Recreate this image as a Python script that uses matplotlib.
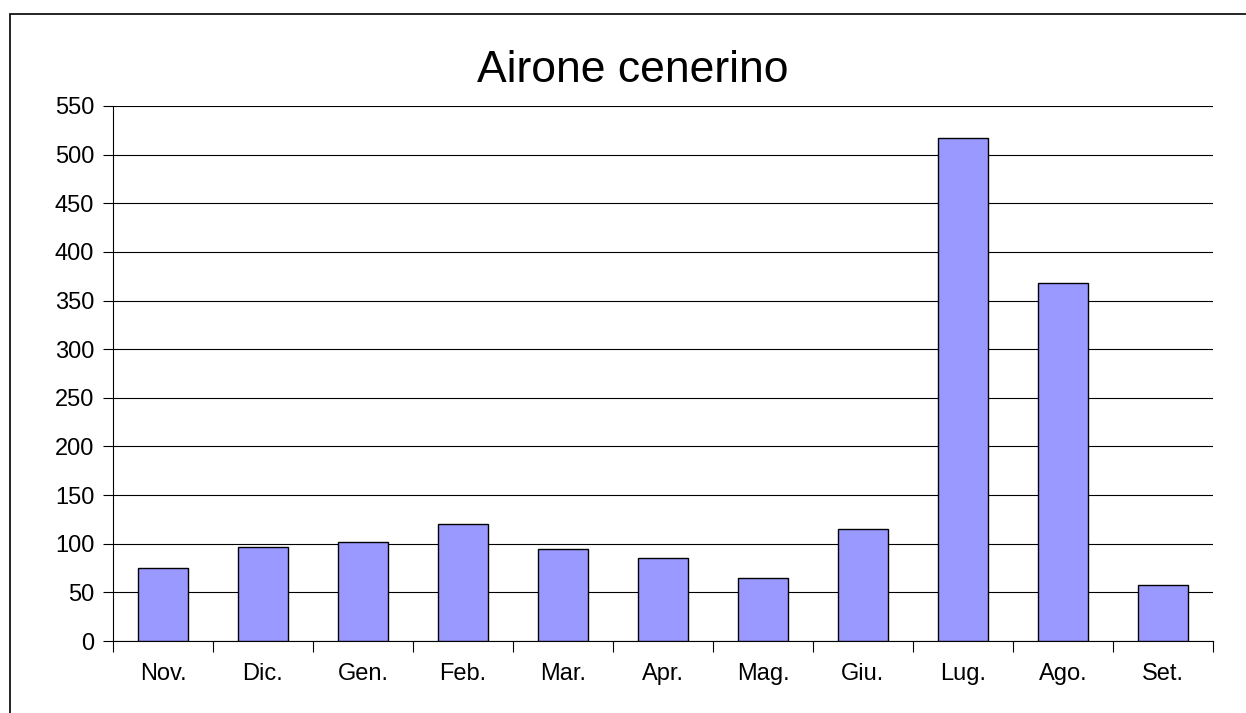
import matplotlib.pyplot as plt
from matplotlib.patches import Rectangle

# Data
months = ['Nov.', 'Dic.', 'Gen.', 'Feb.', 'Mar.', 'Apr.', 'Mag.', 'Giu.', 'Lug.', 'Ago.', 'Set.']
counts = [75, 97, 102, 120, 95, 85, 65, 115, 517, 368, 58]
yticks = list(range(0, 551, 50))

plt.rcParams['font.family'] = ['Liberation Sans', 'DejaVu Sans']

fig = plt.figure(figsize=(12.46, 7.13), dpi=100)
ax = fig.add_axes([113 / 1246, 1 - 641 / 713, 1100 / 1246, 535 / 713])

x = list(range(len(months)))
ax.bar(x, counts, width=0.5, color='#9999ff', edgecolor='black', linewidth=1.0, zorder=3)

ax.set_xlim(-0.5, len(months) - 0.5)
ax.set_ylim(0, 550)
ax.set_yticks(yticks)
ax.set_yticklabels([str(v) for v in yticks], fontsize=17)
ax.tick_params(axis='y', length=7.5, width=0.8, pad=6, direction='out')

# category labels centred, ticks at category boundaries
ax.set_xticks(x)
ax.set_xticklabels(months, fontsize=17)
ax.tick_params(axis='x', which='major', length=0, pad=16)
ax.set_xticks([i - 0.5 for i in range(len(months) + 1)], minor=True)
ax.tick_params(axis='x', which='minor', length=8, width=0.8, direction='out')

ax.yaxis.grid(True, color='black', linewidth=0.8, zorder=0)
ax.set_axisbelow(True)
for side in ['top', 'right']:
    ax.spines[side].set_visible(False)
ax.spines['left'].set_linewidth(0.8)
ax.spines['bottom'].set_linewidth(0.8)

fig.text(633 / 1246, 1 - 70 / 713, 'Airone cenerino', fontsize=32, ha='center', va='center')

# outer chart border (cut off at the right and bottom)
fig.patches.append(Rectangle((10 / 1246, -0.1), 1.2, 1 - 14 / 713 + 0.1,
                             transform=fig.transFigure, fill=False,
                             edgecolor='black', linewidth=1.2))

fig.savefig('out.png', dpi=100)
